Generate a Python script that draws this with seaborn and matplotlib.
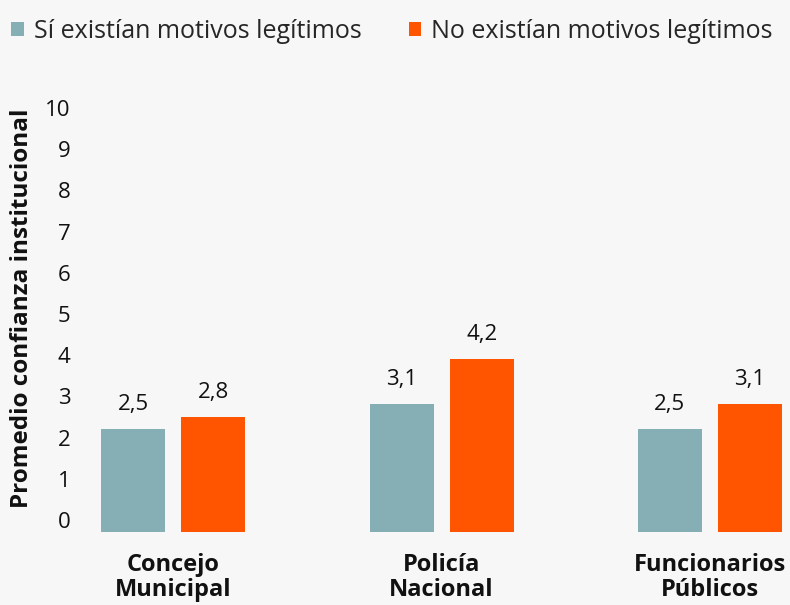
import pandas as pd
import seaborn as sns
import matplotlib.pyplot as plt
import matplotlib.transforms as mtransforms
from matplotlib.patches import Patch

# data
instituciones = ["Concejo\nMunicipal", "Policía\nNacional", "Funcionarios\nPúblicos"]
series = ["Sí existían motivos legítimos", "No existían motivos legítimos"]
si_motivos = [2.5, 3.1, 2.5]
no_motivos = [2.8, 4.2, 3.1]
y_ticks = list(range(0, 11))

colores = ["#86aeb5", "#ff5500"]
fondo = "#f7f7f7"

df = pd.DataFrame({
    "institucion": instituciones * 2,
    "grupo": [series[0]] * 3 + [series[1]] * 3,
    "valor": si_motivos + no_motivos,
})

sns.set_theme(style="white")
plt.rcParams["font.family"] = ["Open Sans", "DejaVu Sans"]

fig = plt.figure(figsize=(7.9, 6.05), dpi=100, facecolor=fondo)
ax = fig.add_axes([90 / 790, 73 / 605, 700 / 790, 412 / 605])
ax.set_facecolor(fondo)

sns.barplot(data=df, x="institucion", y="valor", hue="grupo",
            palette=colores, width=0.597, gap=0.2, ax=ax, legend=False,
            saturation=1, linewidth=0)

for cont in ax.containers:
    ax.bar_label(cont, labels=[f"{v:.1f}".replace(".", ",") for v in cont.datavalues],
                 padding=10, fontsize=16, color="#111111")

ax.set_xlim(-0.311, 2.299)
ax.set_ylim(0, 10)
ax.set_yticks(y_ticks)
ax.set_yticklabels([str(t) for t in y_ticks], fontsize=16, color="#111111")
ax.tick_params(axis="y", length=0, pad=14)
ax.tick_params(axis="x", length=0, pad=15)
# tick labels sit a bit higher than the bar baseline in the original
off = mtransforms.ScaledTranslation(0, 12 / 100, fig.dpi_scale_trans)
for lab in ax.get_yticklabels():
    lab.set_transform(lab.get_transform() + off)
for lab in ax.get_xticklabels():
    lab.set_fontsize(17)
    lab.set_fontweight("bold")
    lab.set_color("#111111")
    lab.set_linespacing(1.05)
ax.set_xlabel("")
ax.set_ylabel("")
sns.despine(ax=ax, left=True, bottom=True)

fig.text(22 / 790, 1 - 308 / 605, "Promedio confianza institucional", rotation=90,
         ha="center", va="center", fontsize=17.5, fontweight="bold", color="#111111")

handles = [Patch(facecolor=c, edgecolor="none") for c in colores]
fig.legend(handles, series, loc="upper left", bbox_to_anchor=(-0.008, 0.998), ncol=2,
           frameon=False, fontsize=18, handlelength=0.5, handleheight=0.5,
           handletextpad=0.4, columnspacing=1.9, borderaxespad=0.3)

fig.savefig("out.png", dpi=100, facecolor=fondo)
